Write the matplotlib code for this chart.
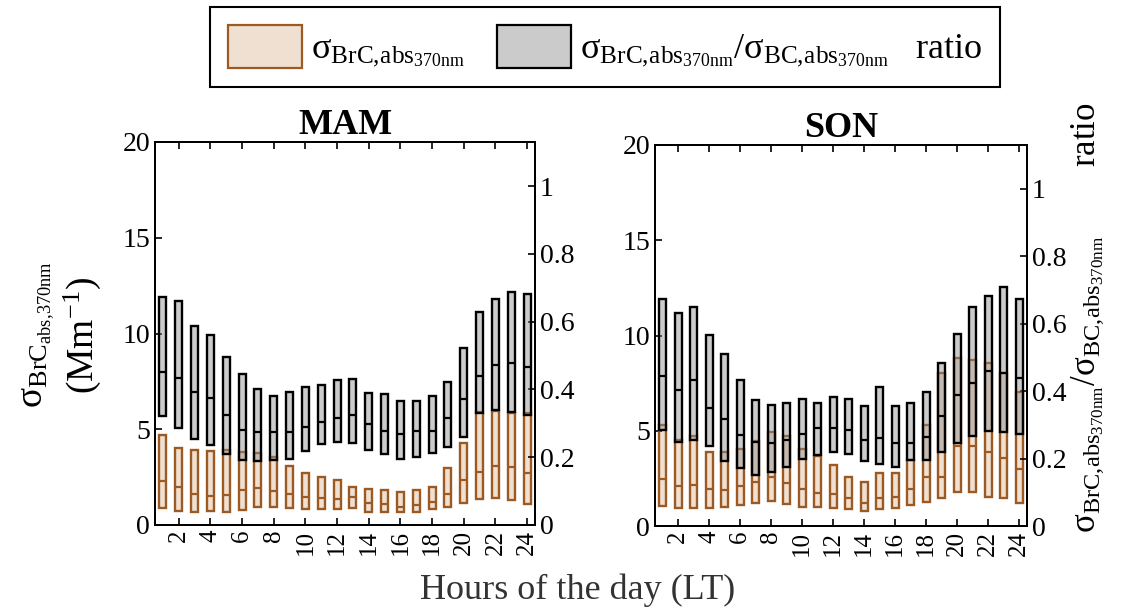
import matplotlib
matplotlib.use('Agg')
import matplotlib.pyplot as plt
from matplotlib.patches import Patch

plt.rcParams['font.family'] = ['Liberation Serif', 'DejaVu Serif']
plt.rcParams['mathtext.fontset'] = 'custom'
plt.rcParams['mathtext.rm'] = 'Liberation Serif'
plt.rcParams['mathtext.it'] = 'Liberation Serif:italic'
plt.rcParams['mathtext.bf'] = 'Liberation Serif:bold'

hours = list(range(1, 25))
xtick_vals = list(range(2, 25, 2))

# MAM - sigma BrC abs 370nm (Mm-1): lower quartile, median, upper quartile
mam_brc_q1 = [0.91, 0.73, 0.70, 0.73, 0.70, 0.78, 0.96, 0.96, 0.87, 0.82, 0.82, 0.82,
              0.87, 0.70, 0.66, 0.70, 0.70, 0.82, 0.96, 1.17, 1.36, 1.40, 1.31, 1.10]
mam_brc_med = [2.30, 1.97, 1.62, 1.52, 1.57, 1.83, 1.92, 1.79, 1.60, 1.45, 1.39, 1.34,
               1.48, 1.13, 1.08, 0.96, 1.05, 1.19, 1.60, 2.35, 2.75, 3.10, 3.05, 2.70]
mam_brc_q3 = [4.70, 4.01, 3.92, 3.87, 3.92, 3.83, 3.78, 3.57, 3.08, 2.70, 2.53, 2.35,
              1.97, 1.87, 1.83, 1.71, 1.83, 1.97, 3.00, 4.27, 5.89, 5.97, 5.84, 5.84]

# MAM - BrC/BC ratio
mam_ratio_q1 = [0.322, 0.286, 0.254, 0.235, 0.210, 0.192, 0.190, 0.192, 0.194, 0.219, 0.239, 0.245,
                0.242, 0.222, 0.210, 0.194, 0.200, 0.212, 0.230, 0.261, 0.330, 0.338, 0.332, 0.325]
mam_ratio_med = [0.451, 0.434, 0.393, 0.375, 0.325, 0.281, 0.274, 0.274, 0.274, 0.289, 0.304, 0.316,
                 0.325, 0.298, 0.276, 0.269, 0.278, 0.278, 0.316, 0.373, 0.439, 0.473, 0.478, 0.467]
mam_ratio_q3 = [0.672, 0.661, 0.587, 0.560, 0.495, 0.446, 0.401, 0.382, 0.391, 0.407, 0.414, 0.429,
                0.431, 0.390, 0.387, 0.365, 0.367, 0.382, 0.422, 0.523, 0.629, 0.666, 0.687, 0.683]

# SON - sigma BrC abs 370nm (Mm-1)
son_brc_q1 = [1.07, 0.93, 0.93, 0.93, 0.98, 1.11, 1.19, 1.33, 1.16, 1.02, 0.98, 0.96,
              0.88, 0.81, 0.88, 0.96, 1.11, 1.28, 1.49, 1.81, 1.81, 1.54, 1.49, 1.19]
son_brc_med = [2.46, 2.11, 2.16, 1.93, 1.89, 2.12, 2.33, 2.56, 2.25, 1.95, 1.72, 1.67,
               1.49, 1.19, 1.46, 1.54, 1.95, 2.56, 2.56, 4.20, 4.20, 3.90, 3.56, 3.00]
son_brc_q3 = [5.32, 4.49, 4.70, 3.91, 3.91, 4.04, 4.44, 4.91, 4.70, 4.05, 3.65, 3.21,
              2.56, 2.33, 2.77, 2.77, 3.47, 5.32, 8.04, 8.83, 8.74, 8.56, 8.04, 7.02]

# SON - BrC/BC ratio
son_ratio_q1 = [0.284, 0.249, 0.254, 0.237, 0.193, 0.173, 0.151, 0.161, 0.175, 0.198, 0.210, 0.218,
                0.215, 0.193, 0.183, 0.175, 0.195, 0.195, 0.220, 0.246, 0.267, 0.282, 0.279, 0.274]
son_ratio_med = [0.445, 0.404, 0.432, 0.351, 0.317, 0.269, 0.249, 0.246, 0.254, 0.274, 0.291, 0.292,
                 0.286, 0.254, 0.261, 0.246, 0.246, 0.264, 0.325, 0.388, 0.425, 0.460, 0.454, 0.440]
son_ratio_q3 = [0.674, 0.631, 0.649, 0.567, 0.509, 0.432, 0.375, 0.358, 0.365, 0.378, 0.366, 0.383,
                0.378, 0.355, 0.412, 0.355, 0.365, 0.397, 0.484, 0.568, 0.649, 0.681, 0.708, 0.674]

brown = '#9c5a22'
brown_fill = (0.72, 0.45, 0.20, 0.22)
gray_fill = (0.55, 0.55, 0.55, 0.45)


def make_stats(q1, med, q3):
    return [dict(med=m, q1=a, q3=b, whislo=a, whishi=b, fliers=[])
            for a, m, b in zip(q1, med, q3)]


def draw_panel(rect, title, brc, ratio):
    ax = fig.add_axes(rect)
    ax.bxp(make_stats(*brc), positions=hours, widths=0.45, patch_artist=True,
           showcaps=False, showfliers=False, manage_ticks=False,
           boxprops=dict(facecolor=brown_fill, edgecolor=brown, linewidth=1.7),
           medianprops=dict(color=brown, linewidth=1.6),
           whiskerprops=dict(linewidth=0))
    ax.set_xlim(0.5, 24.5)
    ax.set_ylim(0, 20)
    ax.set_yticks([0, 5, 10, 15, 20])
    ax.set_xticks(xtick_vals)
    ax.set_xticklabels([str(h) for h in xtick_vals], rotation=90, fontsize=18)
    ax.tick_params(axis='y', labelsize=20)
    ax.tick_params(direction='in', top=True, right=False, length=5, width=1.2)
    ax.set_title(title, fontsize=26, fontweight='bold', pad=6)

    ax2 = ax.twinx()
    ax2.bxp(make_stats(*ratio), positions=hours, widths=0.45, patch_artist=True,
            showcaps=False, showfliers=False, manage_ticks=False,
            boxprops=dict(facecolor=gray_fill, edgecolor='black', linewidth=1.7),
            medianprops=dict(color='black', linewidth=1.6),
            whiskerprops=dict(linewidth=0))
    ax2.set_ylim(0, 1.13)
    ax2.set_yticks([0, 0.2, 0.4, 0.6, 0.8, 1])
    ax2.set_yticklabels(['0', '0.2', '0.4', '0.6', '0.8', '1'])
    ax2.tick_params(direction='in', length=5, width=1.2, labelsize=20)
    for a in (ax, ax2):
        for s in a.spines.values():
            s.set_linewidth(1.4)
    return ax, ax2


fig = plt.figure(figsize=(11.31, 6.08), dpi=100)

draw_panel([155 / 1131, 1 - 525 / 608, 380 / 1131, 383 / 608], 'MAM',
           (mam_brc_q1, mam_brc_med, mam_brc_q3),
           (mam_ratio_q1, mam_ratio_med, mam_ratio_q3))
draw_panel([655 / 1131, 1 - 526 / 608, 372 / 1131, 381 / 608], 'SON',
           (son_brc_q1, son_brc_med, son_brc_q3),
           (son_ratio_q1, son_ratio_med, son_ratio_q3))

sig_brc = r'$\mathrm{\sigma}_{\mathrm{BrC,\!abs}_{\mathrm{370nm}}}$'
sig_ratio = (r'$\mathrm{\sigma}_{\mathrm{BrC,\!abs}_{\mathrm{370nm}}}'
             r'/\mathrm{\sigma}_{\mathrm{BC,\!abs}_{\mathrm{370nm}}}$')

fig.text(62 / 1131, 1 - 335 / 608,
         r'$\mathrm{\sigma}_{\mathrm{BrC}_{\mathrm{abs,\!370nm}}}$' + '\n' + r'$(\mathrm{Mm}^{-1})$',
         rotation=90, ha='center', va='center', multialignment='center', fontsize=27,
         linespacing=1.15)
fig.text(1088 / 1131, 1 - 318 / 608, sig_ratio + '        ratio',
         rotation=90, ha='center', va='center', fontsize=25)
fig.text(578 / 1131, 1 - 590 / 608, 'Hours of the day (LT)',
         ha='center', va='center', fontsize=26, color='#333333')

handles = [Patch(facecolor=brown_fill, edgecolor=brown, linewidth=1.6),
           Patch(facecolor=gray_fill, edgecolor='black', linewidth=1.6)]
leg = fig.legend(handles, [sig_brc, sig_ratio + '   ratio'], loc='center',
                 bbox_to_anchor=(605 / 1131, 1 - 47 / 608), ncol=2, fontsize=26,
                 handlelength=2.05, handleheight=1.45, handletextpad=0.25,
                 columnspacing=0.9, fancybox=False, edgecolor='black',
                 framealpha=1, borderpad=0.5, borderaxespad=0)
leg.get_frame().set_linewidth(1.5)

fig.savefig('out.png', dpi=100)
